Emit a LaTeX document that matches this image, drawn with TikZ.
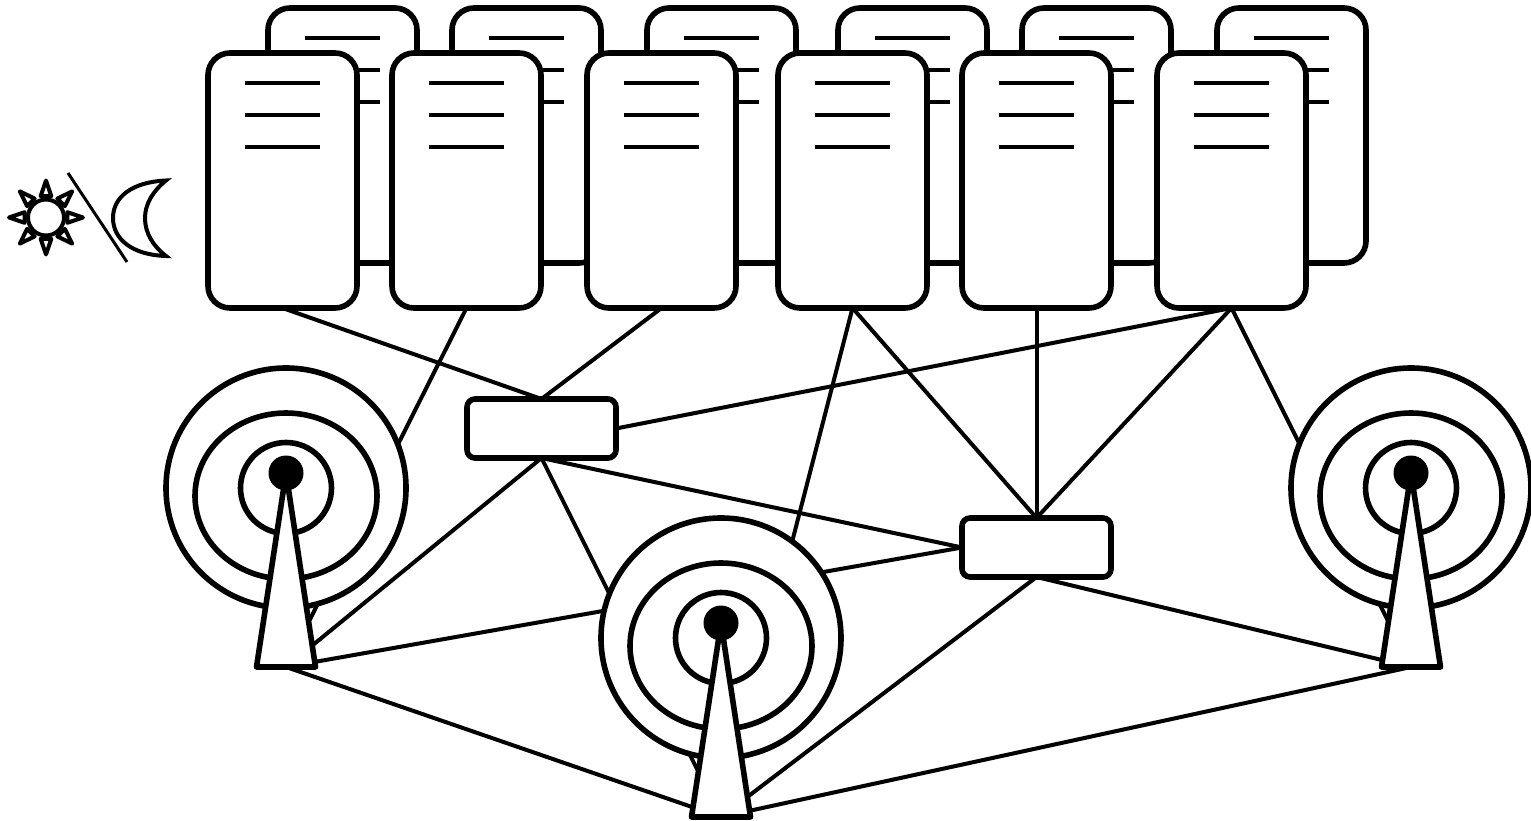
\documentclass[tikz,border=0pt]{standalone}
\usetikzlibrary{backgrounds}
\tikzset{
  x=1pt,y=-1pt,
  shape line/.style={draw=black,line width=5.6pt,fill=white,line join=round},
  serverbox/.style={shape line,rectangle,rounded corners=22pt,minimum width=149pt,minimum height=255pt,inner sep=0pt,outer sep=0pt},
  switchbox/.style={shape line,rectangle,rounded corners=8pt,minimum width=149pt,minimum height=59pt,inner sep=0pt,outer sep=0pt},
  server line/.style={draw=black,line width=4pt},
  link/.style={draw=black,line width=4pt,line cap=round},
  sun ray/.style={draw=black,line width=4pt,fill=white,line join=round},
  moon line/.style={draw=black,line width=4pt,fill=white,line join=miter,miter limit=4},
}
% name, left x, top y
\newcommand{\ServerAt}[3]{%
  \node[serverbox,anchor=north west] (#1) at (#2,#3) {};
  \foreach \dy in {30,62,94}
    \draw[server line] (#2+37,#3+\dy) -- (#2+112,#3+\dy);
}
% name, centre x, apex y
\newcommand{\TowerAt}[3]{%
  \draw[shape line] (#2,#3+15) ellipse [x radius=120pt,y radius=120pt];
  \draw[shape line] (#2,#3+23) ellipse [x radius=91pt,y radius=83pt];
  \draw[shape line] (#2,#3+15) ellipse [x radius=45.5pt,y radius=45.5pt];
  \draw[shape line] (#2,#3) -- (#2-29.5,#3+194) -- (#2+29.5,#3+194) -- cycle;
  \fill[black] (#2,#3) circle [radius=17.5pt];
  \coordinate (#1) at (#2,#3+194);
}
\begin{document}
\begin{tikzpicture}
\useasboundingbox (0,0) rectangle (1531,821);
% back row of servers
\ServerAt{b1}{268}{8}
\ServerAt{b2}{452}{8}
\ServerAt{b3}{647}{8}
\ServerAt{b4}{838}{8}
\ServerAt{b5}{1022}{8}
\ServerAt{b6}{1217}{8}
% front row of servers
\ServerAt{s1}{208}{53}
\ServerAt{s2}{392}{53}
\ServerAt{s3}{587}{53}
\ServerAt{s4}{778}{53}
\ServerAt{s5}{962}{53}
\ServerAt{s6}{1157}{53}
% switches
\node[switchbox,anchor=north west] (r1) at (467,399) {};
\node[switchbox,anchor=north west] (r2) at (962,518) {};
% towers
\TowerAt{t1}{286}{473}
\TowerAt{t2}{721}{623}
\TowerAt{t3}{1411}{473}
% links
\begin{scope}[on background layer]
  \draw[link] (s1.south) -- (r1.north);
  \draw[link] (s3.south) -- (r1.north);
  \draw[link] (s2.south) -- (t1);
  \draw[link] (s4.south) -- (t2);
  \draw[link] (s4.south) -- (r2.north);
  \draw[link] (s5.south) -- (r2.north);
  \draw[link] (s6.south) -- (r2.north);
  \draw[link] (s6.south) -- (r1.east);
  \draw[link] (s6.south) -- (t3);
  \draw[link] (r1.south) -- (t1);
  \draw[link] (r1.south) -- (t2);
  \draw[link] (r1.south) -- (r2.west);
  \draw[link] (r2.west) -- (t1);
  \draw[link] (r2.south) -- (t2);
  \draw[link] (r2.south) -- (t3);
  \draw[link] (t1) -- (t2);
  \draw[link] (t2) -- (t3);
\end{scope}
% sun
\begin{scope}[shift={(46,217.5)}]
\foreach \a in {0,45,...,315}
  \draw[sun ray] (\a:37) -- (\a+14:22) -- (\a-14:22) -- cycle;
\draw[sun ray] (0,0) circle [radius=18pt];
\end{scope}
% divider
\coordinate (slashA) at (68,173);
\coordinate (slashB) at (127,262);
\draw[draw=black,line width=3pt] (slashA) -- (slashB);
% moon
\draw[moon line] (166,180.5) .. controls (132,182) and (113,197) .. (113,218)
  .. controls (113,239) and (132,255) .. (166,256)
  .. controls (153,246) and (145,233) .. (145,218)
  .. controls (145,204) and (153,191) .. cycle;
\end{tikzpicture}
\end{document}
